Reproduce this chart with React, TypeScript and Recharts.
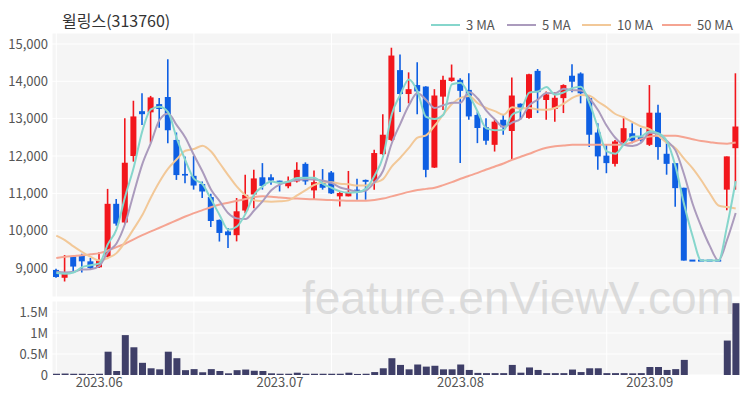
import React from "react";
import { ComposedChart, Bar, Line, XAxis, YAxis, CartesianGrid } from "recharts";

const dates = [
  "2023-05-24","2023-05-25","2023-05-26","2023-05-30","2023-05-31",
  "2023-06-01","2023-06-02","2023-06-05","2023-06-07","2023-06-08","2023-06-09",
  "2023-06-12","2023-06-13","2023-06-14","2023-06-15","2023-06-16",
  "2023-06-19","2023-06-20","2023-06-21","2023-06-22","2023-06-23",
  "2023-06-26","2023-06-27","2023-06-28","2023-06-29","2023-06-30",
  "2023-07-03","2023-07-04","2023-07-05","2023-07-06","2023-07-07",
  "2023-07-10","2023-07-11","2023-07-12","2023-07-13","2023-07-14",
  "2023-07-17","2023-07-18","2023-07-19","2023-07-20","2023-07-21",
  "2023-07-24","2023-07-25","2023-07-26","2023-07-27","2023-07-28","2023-07-31",
  "2023-08-01","2023-08-02","2023-08-03","2023-08-04",
  "2023-08-07","2023-08-08","2023-08-09","2023-08-10","2023-08-11",
  "2023-08-14","2023-08-16","2023-08-17","2023-08-18",
  "2023-08-21","2023-08-22","2023-08-23","2023-08-24","2023-08-25",
  "2023-08-28","2023-08-29","2023-08-30","2023-08-31",
  "2023-09-01","2023-09-04","2023-09-05","2023-09-06","2023-09-07","2023-09-08",
  "2023-09-11","2023-09-12","2023-09-13","2023-09-14","2023-09-15",
];

const opens = [
  8950, 8740, 9310, 9350, 9180, 9020, 9300, 10720, 10220, 12000,
  13200, 13170, 13390, 13580, 12430, 11520, 11470, 11250, 10900, 10290,
  9980, 9880, 10540, 10970, 11430, 11430, 11340, 11190, 11320, 11790,
  11080, 11280, 11560, 10920, 10920, 11100, 11360, 11340, 12050, 12430,
  14300, 13660, 13900, 13860, 11690, 13590, 14010, 14040, 13770, 13100,
  12770, 12300, 12970, 12670, 13400, 13020, 14280, 13500, 13260, 13550,
  14150, 14210, 13550, 12630, 12010, 11790, 12360, 12610, 12520, 12300,
  13160, 12060, 11810, 11150, 9200, 9200, 9200, 9200, 11100, 12210,
];
const highs = [
  8980, 9350, 9320, 9380, 9270, 9420, 11120, 10850, 13010, 13480,
  13680, 13610, 13555, 14590, 12630, 11990, 12000, 11320, 10990, 10300,
  10075, 10875, 11500, 11630, 11810, 11510, 11340, 11450, 11830, 11830,
  11610, 11650, 11600, 11050, 11600, 11390, 11370, 12170, 13120, 14900,
  14720, 14240, 14510, 13870, 13790, 14150, 14450, 14080, 14215, 13190,
  13010, 12970, 13100, 14100, 13410, 14200, 14330, 13730, 13710, 13920,
  14460, 14240, 13590, 12880, 12300, 12430, 13055, 12880, 12750, 13900,
  13370, 12345, 11810, 11150, 9200, 9200, 9200, 9200, 11990, 14215,
];
const lows = [
  8740, 8640, 8900, 8880, 8970, 9000, 9260, 10130, 10180, 11850,
  12830, 12350, 12755, 12345, 11360, 11270, 11100, 10875, 10100, 9710,
  9540, 9715, 10470, 10600, 11100, 11230, 11050, 11140, 11290, 11230,
  10830, 11100, 10980, 10650, 10920, 10830, 10830, 11100, 12030, 12400,
  13180, 13410, 13120, 11430, 11680, 13230, 13990, 11810, 12970, 12345,
  12300, 12120, 12570, 11900, 12970, 13000, 13150, 12970, 12920, 13150,
  13710, 13410, 12240, 11630, 11540, 11720, 12345, 12345, 12390, 12270,
  11900, 11500, 10640, 9200, 9200, 9200, 9200, 9200, 10545, 11100,
];
const closes = [
  8760, 8850, 9040, 9180, 9000, 9200, 10720, 10190, 11820, 13060,
  13120, 13570, 13260, 12690, 11490, 11480, 11210, 11050, 10260, 9940,
  9880, 10520, 10960, 11400, 11200, 11345, 11310, 11300, 11630, 11320,
  11300, 11150, 11000, 11010, 11040, 11030, 11310, 12080, 12570, 14690,
  13660, 13790, 13730, 11630, 13620, 14040, 14100, 13745, 13060, 12750,
  12410, 12920, 12770, 13620, 13280, 14190, 13710, 13650, 13560, 13900,
  13990, 13680, 12570, 11990, 11810, 12390, 12745, 12410, 12420, 13160,
  12240, 11790, 11140, 9200, 9200, 9200, 9200, 9200, 11990, 12790,
];
const volumes = [
  30000, 35000, 30000, 30000, 25000, 30000, 555000, 95000, 950000, 660000,
  290000, 160000, 135000, 555000, 400000, 115000, 140000, 65000, 140000, 95000,
  40000, 115000, 130000, 100000, 95000, 40000, 30000, 30000, 55000, 30000,
  30000, 30000, 30000, 30000, 55000, 25000, 30000, 70000, 160000, 400000,
  240000, 135000, 250000, 200000, 220000, 135000, 135000, 250000, 120000, 50000,
  45000, 45000, 45000, 240000, 55000, 180000, 120000, 45000, 45000, 45000,
  130000, 70000, 160000, 160000, 45000, 45000, 45000, 40000, 45000, 190000,
  190000, 120000, 140000, 360000, 0, 0, 0, 0, 820000, 1710000,
];
const ma3 = [
  8870, 8850, 8883, 9023, 9073, 9127, 9640, 10037, 10910, 11690,
  12667, 13250, 13317, 13173, 12480, 11887, 11393, 11247, 10840, 10417,
  10027, 10113, 10453, 10960, 11187, 11315, 11285, 11318, 11413, 11417,
  11417, 11257, 11150, 11053, 11017, 11027, 11127, 11473, 11987, 13113,
  13640, 14047, 13727, 13050, 12993, 13097, 13920, 13962, 13635, 13185,
  12740, 12693, 12700, 13103, 13223, 13697, 13727, 13850, 13640, 13703,
  13817, 13857, 13413, 12747, 12123, 12063, 12315, 12515, 12525, 12663,
  12607, 12397, 11723, 10710, 9847, 9200, 9200, 9200, 10130, 11327,
];
const ma5 = [
  8900, 8880, 8900, 8960, 8966, 9054, 9428, 9658, 10186, 10998,
  11782, 12352, 12966, 13140, 12826, 12498, 12026, 11584, 11098, 10788,
  10468, 10330, 10312, 10540, 10792, 11085, 11243, 11311, 11357, 11381,
  11372, 11340, 11280, 11156, 11100, 11046, 11078, 11294, 11606, 12336,
  12862, 13358, 13688, 13500, 13286, 13362, 13424, 13427, 13713, 13539,
  13213, 12977, 12782, 12894, 13000, 13356, 13514, 13690, 13678, 13802,
  13762, 13756, 13540, 13226, 12808, 12488, 12301, 12269, 12355, 12625,
  12595, 12404, 12150, 11506, 10714, 10106, 9588, 9200, 9758, 10476,
];
const ma10 = [
  9870, 9750, 9580, 9430, 9300, 9200, 9270, 9400, 9700, 10050,
  10418, 10890, 11312, 11663, 11912, 12140, 12189, 12275, 12119, 11807,
  11483, 11178, 10948, 10819, 10790, 10777, 10787, 10812, 10949, 11087,
  11229, 11292, 11296, 11257, 11241, 11209, 11209, 11287, 11381, 11718,
  11954, 12218, 12491, 12553, 12811, 13112, 13391, 13558, 13607, 13413,
  13288, 13201, 13105, 13304, 13270, 13285, 13246, 13236, 13286, 13401,
  13559, 13635, 13615, 13452, 13305, 13125, 13029, 12905, 12791, 12717,
  12542, 12353, 12210, 11931, 11670, 11351, 10996, 10675, 10632, 10595,
];
const ma50 = [
  9270, 9300, 9320, 9340, 9370, 9400, 9470, 9560, 9650, 9770,
  9880, 9980, 10080, 10180, 10280, 10380, 10470, 10550, 10630, 10700,
  10750, 10800, 10850, 10900, 10920, 10910, 10890, 10870, 10860, 10850,
  10840, 10830, 10820, 10810, 10800, 10800, 10800, 10820, 10860, 10920,
  10980, 11040, 11090, 11120, 11150, 11220, 11300, 11390, 11470, 11550,
  11640, 11720, 11800, 11900, 11980, 12060, 12150, 12220, 12260, 12280,
  12300, 12300, 12300, 12300, 12300, 12300, 12310, 12370, 12460, 12520,
  12540, 12540, 12540, 12500, 12450, 12400, 12370, 12340, 12330, 12360,
];

const monthTicks = ["2023-06-01", "2023-07-03", "2023-08-01", "2023-09-01"];
const gridDates = ["2023-05-24", "2023-06-19", "2023-07-11", "2023-08-02", "2023-08-25"];
const priceTicks = [9000, 10000, 11000, 12000, 13000, 14000, 15000];
const volumeTicks = [0, 500000, 1000000, 1500000];

const rows = dates.map((date, i) => ({
  date,
  open: opens[i],
  high: highs[i],
  low: lows[i],
  close: closes[i],
  volume: volumes[i],
  ma3: ma3[i],
  ma5: ma5[i],
  ma10: ma10[i],
  ma50: ma50[i],
}));

const RED = "#f2161c";
const BLUE = "#0e5fe3";
const VOL = "#3f3f68";
const C3 = "#86d6cc";
const C5 = "#ab9bbd";
const C10 = "#f2c898";
const C50 = "#f5a492";
const GRID_BG = "#f5f5f5";
const TICK = { fontSize: 13, fill: "#555555" };

const Candle = (props: any) => {
  const { x, y, width, height, payload } = props;
  if (!payload || x == null || y == null) return null;
  const { open, close, high, low } = payload;
  const color = close > open ? RED : BLUE;
  const cx = x + width / 2;
  const range = high - low;
  if (!(range > 0) || !(height > 0)) {
    return <rect x={x} y={y - 1} width={width} height={2} fill={color} />;
  }
  const k = height / range;
  const yOf = (v: number) => y + (high - v) * k;
  const top = yOf(Math.max(open, close));
  const bot = yOf(Math.min(open, close));
  return (
    <g>
      <line x1={cx} x2={cx} y1={y} y2={y + height} stroke={color} strokeWidth={1.6} />
      <rect x={x} y={top} width={width} height={Math.max(bot - top, 1.6)} fill={color} />
    </g>
  );
};

const legendItems = [
  { label: "3 MA", color: C3, x: 431 },
  { label: "5 MA", color: C5, x: 507 },
  { label: "10 MA", color: C10, x: 582 },
  { label: "50 MA", color: C50, x: 662 },
];

export default function App() {
  const font = "'Noto Sans CJK KR', 'Noto Sans', sans-serif";
  return (
    <div
      style={{
        position: "absolute",
        left: 0,
        top: 0,
        width: 750,
        height: 400,
        background: "#ffffff",
        fontFamily: font,
        overflow: "hidden",
      }}
    >
      <div style={{ position: "absolute", left: 0, top: 0 }}>
        <ComposedChart width={750} height={297} data={rows} margin={{ top: 33, right: 10, bottom: 0, left: 0 }}>
          <CartesianGrid fill={GRID_BG} fillOpacity={1} stroke="#ffffff" strokeWidth={1} xAxisId="g" />
          <XAxis dataKey="date" hide />
          <XAxis xAxisId="g" dataKey="date" hide ticks={gridDates} interval={0} />
          <YAxis
            domain={[8225, 15294]}
            ticks={priceTicks}
            interval={0}
            allowDataOverflow
            width={52}
            axisLine={false}
            tickLine={false}
            tickSize={0}
            tickMargin={4}
            tick={TICK}
            tickFormatter={(v: number) => v.toLocaleString("en-US")}
          />
          <Bar dataKey={(d: any) => [d.low, d.high]} barSize={6} shape={<Candle />} isAnimationActive={false} />
          <Line type="monotone" dataKey="ma50" stroke={C50} strokeWidth={2} dot={false} isAnimationActive={false} />
          <Line type="monotone" dataKey="ma10" stroke={C10} strokeWidth={2} dot={false} isAnimationActive={false} />
          <Line type="monotone" dataKey="ma5" stroke={C5} strokeWidth={2} dot={false} isAnimationActive={false} />
          <Line type="monotone" dataKey="ma3" stroke={C3} strokeWidth={2} dot={false} isAnimationActive={false} />
        </ComposedChart>
      </div>

      <svg width={750} height={400} style={{ position: "absolute", left: 0, top: 0 }}>
        <text x={62} y={27} fontSize={16} fill="#333333" fontFamily={font}>
          윌링스(313760)
        </text>
        {legendItems.map((it) => (
          <g key={it.label}>
            <line x1={it.x} x2={it.x + 29} y1={25} y2={25} stroke={it.color} strokeWidth={2} />
            <text x={it.x + 35} y={29.5} fontSize={13} fill="#555555" fontFamily={font}>
              {it.label}
            </text>
          </g>
        ))}
      </svg>

      <div style={{ position: "absolute", left: 0, top: 0 }}>
        <ComposedChart width={750} height={400} data={rows} margin={{ top: 301, right: 10, bottom: 0, left: 0 }}>
          <CartesianGrid fill={GRID_BG} fillOpacity={1} stroke="#ffffff" strokeWidth={1} xAxisId="g" />
          <XAxis
            dataKey="date"
            ticks={monthTicks}
            interval={0}
            height={25}
            axisLine={false}
            tickLine={false}
            tickSize={0}
            tickMargin={3}
            tick={TICK}
            tickFormatter={(d: string) => d.slice(0, 7).replace("-", ".")}
          />
          <XAxis xAxisId="g" dataKey="date" hide ticks={gridDates} interval={0} />
          <YAxis
            domain={[0, 1762000]}
            ticks={volumeTicks}
            interval={0}
            allowDataOverflow
            width={52}
            axisLine={false}
            tickLine={false}
            tickSize={0}
            tickMargin={4}
            tick={TICK}
            tickFormatter={(v: number) => (v === 0 ? "0" : `${v / 1000000}M`)}
          />
          <Bar dataKey="volume" fill={VOL} barSize={7} isAnimationActive={false} />
        </ComposedChart>
      </div>

      <svg width={750} height={400} style={{ position: "absolute", left: 0, top: 0, pointerEvents: "none" }}>
        <text
          x={302}
          y={314}
          fontSize={46}
          fill="#d2d2d2"
          fillOpacity={0.75}
          fontFamily="'Liberation Sans', Arial, sans-serif"
          textLength={433}
          lengthAdjust="spacingAndGlyphs"
        >
          feature.enViewV.com
        </text>
      </svg>
    </div>
  );
}
